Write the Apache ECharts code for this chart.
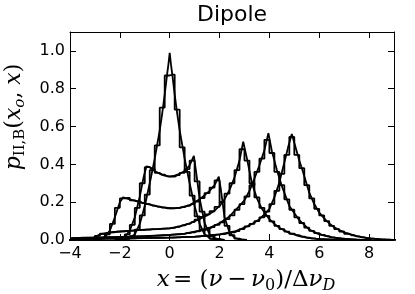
<!DOCTYPE html>
<html><head><meta charset="utf-8">
<script src="https://cdn.jsdelivr.net/npm/echarts@6/dist/echarts.min.js"></script>
<style>html,body{margin:0;padding:0;background:#fff}#c{width:415px;height:294px}</style>
</head><body><div id="c"></div><script>
// ---- data ----
const xTicks = [-4, -2, 0, 2, 4, 6, 8];
const yTicks = [0, 0.2, 0.4, 0.6, 0.8, 1.0];
const binWidth = 0.2;

// smooth curves: [x, p]
const lineA = [[-2.2,0],[-1.8,0.003],[-1.6,0.01],[-1.4,0.03],[-1.2,0.085],[-1.0,0.18],[-0.8,0.30],[-0.6,0.43],[-0.4,0.58],[-0.3,0.67],[-0.2,0.77],[-0.1,0.88],[-0.05,0.93],[0,0.99],[0.05,0.93],[0.1,0.88],[0.2,0.77],[0.3,0.67],[0.4,0.58],[0.6,0.43],[0.8,0.30],[1.0,0.18],[1.2,0.085],[1.4,0.03],[1.6,0.01],[1.8,0.003],[2.2,0]];
const lineB = [[-2.2,0],[-2.0,0.004],[-1.8,0.015],[-1.6,0.05],[-1.4,0.12],[-1.2,0.23],[-1.05,0.33],[-0.93,0.39],[-0.8,0.385],[-0.6,0.365],[-0.4,0.35],[-0.2,0.34],[0,0.335],[0.2,0.34],[0.4,0.35],[0.6,0.365],[0.8,0.395],[0.97,0.445],[1.05,0.37],[1.2,0.22],[1.4,0.09],[1.6,0.03],[1.8,0.01],[2.0,0.003],[2.2,0]];
const lineC = [[-3.0,0],[-2.8,0.004],[-2.6,0.015],[-2.4,0.05],[-2.2,0.12],[-2.0,0.20],[-1.87,0.226],[-1.6,0.215],[-1.2,0.20],[-0.8,0.187],[-0.4,0.175],[0,0.168],[0.4,0.17],[0.8,0.185],[1.2,0.215],[1.6,0.26],[1.8,0.29],[1.97,0.335],[2.05,0.27],[2.2,0.12],[2.4,0.04],[2.6,0.012],[2.8,0.003],[3.0,0]];
const lineD = [[-3.6,0],[-3.2,0.005],[-3.0,0.015],[-2.8,0.03],[-2.4,0.04],[-2.0,0.045],[-1.5,0.05],[-1.0,0.055],[-0.5,0.058],[0,0.062],[0.4,0.072],[0.8,0.088],[1.2,0.112],[1.5,0.13],[1.8,0.155],[2.0,0.18],[2.2,0.215],[2.4,0.265],[2.6,0.33],[2.8,0.42],[2.95,0.52],[3.1,0.43],[3.3,0.30],[3.5,0.22],[3.7,0.165],[4.0,0.11],[4.2,0.085],[4.4,0.065],[4.8,0.037],[5.2,0.02],[5.6,0.01],[6.0,0.005],[6.5,0.002],[7.0,0]];
const lineE = [[-4.0,0.01],[-3.0,0.013],[-2.0,0.016],[-1.0,0.02],[0,0.027],[0.6,0.034],[1.2,0.05],[1.6,0.065],[2.0,0.088],[2.4,0.125],[2.8,0.18],[3.0,0.21],[3.2,0.26],[3.4,0.325],[3.6,0.395],[3.8,0.475],[3.96,0.565],[4.1,0.47],[4.3,0.37],[4.5,0.285],[4.8,0.18],[5.2,0.105],[5.6,0.055],[6.0,0.03],[6.5,0.014],[7.0,0.006],[7.5,0.002],[8.0,0]];
const lineF = [[-4.0,0.005],[-2.0,0.008],[0,0.013],[1.0,0.018],[2.0,0.03],[2.6,0.045],[3.0,0.065],[3.4,0.092],[3.6,0.11],[3.8,0.135],[4.0,0.165],[4.2,0.225],[4.4,0.305],[4.6,0.41],[4.75,0.49],[4.9,0.56],[5.05,0.49],[5.2,0.42],[5.35,0.36],[5.6,0.25],[5.8,0.19],[6.0,0.145],[6.3,0.1],[6.6,0.067],[7.0,0.04],[7.5,0.02],[8.0,0.008],[8.5,0.003],[9.0,0.001]];

// histograms: first bin centre + bin heights (bin width 0.2)
const histStartA = -1.9;
const histA = [0.002,0.006,0.02,0.055,0.13,0.24,0.37,0.50,0.70,0.87,0.875,0.69,0.49,0.36,0.235,0.125,0.055,0.02,0.006,0.002];
const histStartB = -1.9;
const histB = [0.008,0.03,0.08,0.17,0.30,0.385,0.375,0.355,0.345,0.337,0.335,0.343,0.355,0.375,0.42,0.31,0.15,0.055,0.02,0.006];
const histStartC = -2.9;
const histC = [0.002,0.008,0.03,0.085,0.17,0.22,0.222,0.21,0.205,0.195,0.19,0.182,0.177,0.171,0.168,0.167,0.17,0.174,0.181,0.19,0.203,0.222,0.248,0.277,0.315,0.2,0.075,0.025,0.007,0.002];
const histStartD = -3.5;
const histD = [0.001,0.004,0.01,0.022,0.033,0.038,0.041,0.044,0.046,0.048,0.05,0.052,0.054,0.055,0.057,0.058,0.06,0.061,0.064,0.07,0.077,0.085,0.095,0.108,0.122,0.135,0.152,0.175,0.2,0.245,0.30,0.37,0.48,0.42,0.30,0.225,0.17,0.128,0.098,0.075,0.058,0.044,0.033,0.025,0.018,0.013,0.009,0.006,0.004,0.003,0.002,0.001,0.0005];
const histStartE = -3.9;
const histE = [0.01,0.011,0.012,0.012,0.013,0.013,0.014,0.015,0.015,0.016,0.017,0.017,0.018,0.019,0.02,0.021,0.022,0.023,0.025,0.026,
  0.028,0.03,0.032,0.036,0.04,0.046,0.052,0.06,0.068,0.08,0.093,0.11,0.13,0.16,0.19,0.23,0.29,0.36,0.43,0.53,
  0.46,0.36,0.29,0.215,0.16,0.12,0.09,0.065,0.048,0.036,0.027,0.02,0.014,0.01,0.007,0.005,0.003,0.002,0.001,0.0005];
const histStartF = -3.9;
const histF = [0.005,0.005,0.006,0.006,0.006,0.007,0.007,0.007,0.008,0.008,0.008,0.009,0.009,0.01,0.01,0.011,0.011,0.012,0.012,0.013,
  0.013,0.014,0.015,0.016,0.017,0.018,0.02,0.022,0.025,0.028,0.031,0.035,0.04,0.047,0.058,0.072,0.085,0.1,0.12,0.15,
  0.19,0.26,0.35,0.45,0.545,0.45,0.38,0.29,0.22,0.165,0.13,0.1,0.075,0.058,0.045,0.033,0.025,0.019,0.014,0.01,
  0.007,0.005,0.003,0.002,0.001];

// ---- build ----
function histData(start, vals) {
  const d = [[start - binWidth, 0]];
  vals.forEach((v, i) => d.push([start + i * binWidth, v]));
  d.push([start + vals.length * binWidth, 0]);
  return d;
}
const lw = 1.8;
function lineSeries(data) {
  return { type: 'line', data, symbol: 'none', smooth: false, silent: true,
    lineStyle: { color: '#000', width: lw }, z: 3 };
}
function stepSeries(start, vals) {
  return { type: 'line', data: histData(start, vals), step: 'middle', symbol: 'none', silent: true,
    lineStyle: { color: '#000', width: lw }, z: 3 };
}
const isTick = (arr, v) => arr.some(t => Math.abs(t - v) < 1e-9);
const axisCommon = {
  axisLine: { show: true, onZero: false, lineStyle: { color: '#000', width: 1 } },
  axisTick: { show: true, inside: true, length: 6, lineStyle: { color: '#000', width: 1 } },
  splitLine: { show: false }
};
const tickFont = { color: '#000', fontSize: 16, fontFamily: 'DejaVu Sans' };

const serif = 'DejaVu Serif';
function richSet(size) {
  const sub = Math.round(size * 0.68);
  return {
    i: { fontFamily: serif, fontStyle: 'italic', fontSize: size, lineHeight: 28, fill: '#000' },
    r: { fontFamily: serif, fontSize: size, lineHeight: 28, fill: '#000' },
    s: { fontFamily: serif, fontSize: sub, lineHeight: 12, verticalAlign: 'bottom', fill: '#000' },
    si: { fontFamily: serif, fontStyle: 'italic', fontSize: sub, lineHeight: 12, verticalAlign: 'bottom', fill: '#000' }
  };
}

const chart = echarts.init(document.getElementById('c'), null, { renderer: 'canvas' });
chart.setOption({
  animation: false,
  backgroundColor: '#fff',
  grid: { left: 70, top: 32, width: 324, height: 208 },
  xAxis: [
    Object.assign({ type: 'value', min: -4, max: 9, interval: 2, position: 'bottom',
      axisLabel: Object.assign({ margin: 6, formatter: v => isTick(xTicks, v) ? (v < 0 ? '\u2212' + (-v) : String(v)) : '' }, tickFont) }, axisCommon),
    Object.assign({ type: 'value', min: -4, max: 9, interval: 2, position: 'top', axisLabel: { show: false } }, axisCommon)
  ],
  yAxis: [
    Object.assign({ type: 'value', min: 0, max: 1.1, interval: 0.2, position: 'left',
      axisLabel: Object.assign({ margin: 5, formatter: v => isTick(yTicks, v) ? v.toFixed(1) : '' }, tickFont) }, axisCommon),
    Object.assign({ type: 'value', min: 0, max: 1.1, interval: 0.2, position: 'right', axisLabel: { show: false } }, axisCommon)
  ],
  series: [
    lineSeries(lineA), stepSeries(histStartA, histA),
    lineSeries(lineB), stepSeries(histStartB, histB),
    lineSeries(lineC), stepSeries(histStartC, histC),
    lineSeries(lineD), stepSeries(histStartD, histD),
    lineSeries(lineE), stepSeries(histStartE, histE),
    lineSeries(lineF), stepSeries(histStartF, histF)
  ],
  graphic: [
    { type: 'text', x: 232, y: 15, z: 10,
      style: { text: 'Dipole', font: '22px "DejaVu Sans"', fill: '#000', align: 'center', verticalAlign: 'middle', textAlign: 'center', textVerticalAlign: 'middle' } },
    { type: 'text', x: 246, y: 280, z: 10,
      style: { text: '{i|x} {r|= (}{i|ν}{r|\u2009−\u2009}{i|ν}{s|0}{r|)/Δ}{i|ν}{si|D}', rich: richSet(23), fill: '#000',
        align: 'center', verticalAlign: 'middle', textAlign: 'center', textVerticalAlign: 'middle' } },
    { type: 'text', x: 14, y: 117, rotation: Math.PI / 2, z: 10,
      style: { text: '{i|p}{s|II,B}{r|(}{i|x}{si|o}{r|, }{i|x}{r|)}', rich: richSet(22), fill: '#000',
        align: 'center', verticalAlign: 'middle', textAlign: 'center', textVerticalAlign: 'middle' } }
  ]
});
</script></body></html>
